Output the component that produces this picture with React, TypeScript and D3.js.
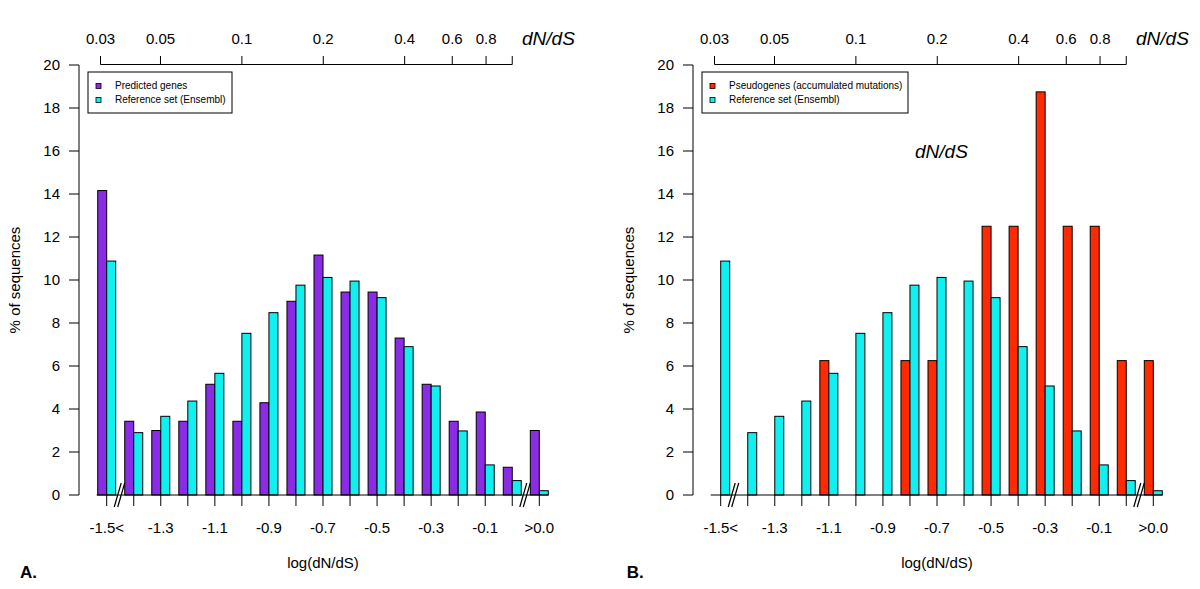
import React from "react";
import * as d3 from "d3";

// ---------- data ----------
const binCenters = [-1.5, -1.4, -1.3, -1.2, -1.1, -1.0, -0.9, -0.8, -0.7, -0.6, -0.5, -0.4, -0.3, -0.2, -0.1, 0.0, 0.1];
const binLabels = ["-1.5<", "", "-1.3", "", "-1.1", "", "-0.9", "", "-0.7", "", "-0.5", "", "-0.3", "", "-0.1", "", ">0.0"];
const predicted = [14.16, 3.43, 3.0, 3.43, 5.15, 3.43, 4.29, 9.01, 11.16, 9.44, 9.44, 7.3, 5.15, 3.43, 3.86, 1.29, 3.0];
const reference = [10.88, 2.9, 3.66, 4.37, 5.66, 7.52, 8.48, 9.76, 10.12, 9.95, 9.18, 6.9, 5.07, 2.98, 1.4, 0.67, 0.2];
const pseudogenes = [0, 0, 0, 0, 6.25, 0, 0, 6.25, 6.25, 0, 12.5, 12.5, 18.75, 12.5, 12.5, 6.25, 6.25];
const yTicks = [0, 2, 4, 6, 8, 10, 12, 14, 16, 18, 20];
const topTicks = [0.03, 0.05, 0.1, 0.2, 0.4, 0.6, 0.8, 1.0];
const topTickLabels = ["0.03", "0.05", "0.1", "0.2", "0.4", "0.6", "0.8", ""];
const breakPositions = [-1.45, 0.05];

const PURPLE = "#8a2be6";
const CYAN = "#11f0f0";
const RED = "#ff2a00";
const FONT = "'Liberation Sans', Arial, Helvetica, sans-serif";

type PanelProps = {
  dx: number;
  first: number[];
  firstColor: string;
  firstLabel: string;
  legendWidth: number;
  letter: string;
  inner?: boolean;
};

function Panel({ dx, first, firstColor, firstLabel, legendWidth, letter, inner }: PanelProps) {
  const x = d3.scaleLinear().domain([-1.5, 0.1]).range([106.7 + dx, 539.3 + dx]);
  const xTop = d3.scaleLog().domain([Math.pow(10, -1.5), Math.pow(10, 0.1)]).range([106.7 + dx, 539.3 + dx]);
  const y = d3.scaleLinear().domain([0, 20]).range([495, 65]);
  const bw = 9;
  const axisX = 79 + dx;
  const legX = 88 + dx;
  return (
    <g fontFamily={FONT}>
      {/* y axis */}
      <line x1={axisX} x2={axisX} y1={y(0)} y2={y(20)} stroke="#000" />
      {yTicks.map((t) => (
        <g key={t}>
          <line x1={axisX - 10} x2={axisX} y1={y(t)} y2={y(t)} stroke="#000" />
          <text x={axisX - 19} y={y(t)} dy="0.35em" textAnchor="end" fontSize={15}>
            {t}
          </text>
        </g>
      ))}
      <text
        transform={`translate(${15 + dx},${(y(0) + y(20)) / 2}) rotate(-90)`}
        textAnchor="middle"
        dy="0.35em"
        fontSize={15}
      >
        % of sequences
      </text>

      {/* top log axis */}
      <line x1={xTop(0.03)} x2={xTop(1.0)} y1={64.5} y2={64.5} stroke="#000" />
      {topTicks.map((t, i) => (
        <g key={t}>
          <line x1={xTop(t)} x2={xTop(t)} y1={56} y2={64.5} stroke="#000" />
          <text x={xTop(t)} y={44} textAnchor="middle" fontSize={15}>
            {topTickLabels[i]}
          </text>
        </g>
      ))}
      <text x={522 + dx} y={45} fontSize={19} fontStyle="italic">
        dN/dS
      </text>

      {/* bars */}
      {binCenters.map((c, i) => (
        <g key={c}>
          {first[i] > 0 && (
            <rect x={x(c) - bw} y={y(first[i])} width={bw} height={y(0) - y(first[i])} fill={firstColor} stroke="#000" strokeWidth={1} />
          )}
          {reference[i] > 0 && (
            <rect x={x(c)} y={y(reference[i])} width={bw} height={y(0) - y(reference[i])} fill={CYAN} stroke="#000" strokeWidth={1} />
          )}
        </g>
      ))}

      {/* baseline */}
      <line x1={x(binCenters[0]) - bw - 1} x2={x(binCenters[binCenters.length - 1]) + bw} y1={y(0)} y2={y(0)} stroke="#000" />

      {/* bottom ticks */}
      {binCenters.map((c, i) => (
        <g key={"t" + c}>
          <line x1={x(c)} x2={x(c)} y1={y(0)} y2={y(0) + 11} stroke="#000" />
          {binLabels[i] && (
            <text x={x(c)} y={528} dy="0.35em" textAnchor="middle" fontSize={15}>
              {binLabels[i]}
            </text>
          )}
        </g>
      ))}

      {/* axis breaks */}
      {breakPositions.map((b) => (
        <g key={b} stroke="#000" strokeWidth={1.2}>
          <line x1={x(b) - 6} y1={507} x2={x(b) + 1} y2={483} />
          <line x1={x(b) - 2.5} y1={507} x2={x(b) + 4.5} y2={483} />
        </g>
      ))}

      <text x={(x(binCenters[0]) + x(binCenters[16])) / 2} y={563} dy="0.35em" textAnchor="middle" fontSize={15}>
        log(dN/dS)
      </text>
      <text x={20 + dx * 0.988} y={578} fontSize={17} fontWeight="bold">
        {letter}
      </text>

      {/* legend */}
      <rect x={legX} y={72} width={legendWidth} height={41} fill="#fff" stroke="#000" />
      <rect x={legX + 8} y={83.5} width={5} height={5} fill={firstColor} stroke="#000" strokeWidth={0.8} />
      <rect x={legX + 8} y={97.5} width={5} height={5} fill={CYAN} stroke="#000" strokeWidth={0.8} />
      <text x={legX + 27} y={89} fontSize={10}>
        {firstLabel}
      </text>
      <text x={legX + 27} y={103} fontSize={10}>
        Reference set (Ensembl)
      </text>

      {inner && (
        <text x={915 } y={158} fontSize={19} fontStyle="italic">
          dN/dS
        </text>
      )}
    </g>
  );
}

export default function App() {
  return (
    <svg
      width={1200}
      height={589}
      viewBox="0 0 1200 589"
      style={{ position: "absolute", left: 0, top: 0, background: "#fff" }}
    >
      <rect width={1200} height={589} fill="#fff" />
      <Panel dx={0} first={predicted} firstColor={PURPLE} firstLabel="Predicted genes" legendWidth={144} letter="A." />
      <Panel
        dx={614}
        first={pseudogenes}
        firstColor={RED}
        firstLabel="Pseudogenes (accumulated mutations)"
        legendWidth={206}
        letter="B."
        inner
      />
    </svg>
  );
}
